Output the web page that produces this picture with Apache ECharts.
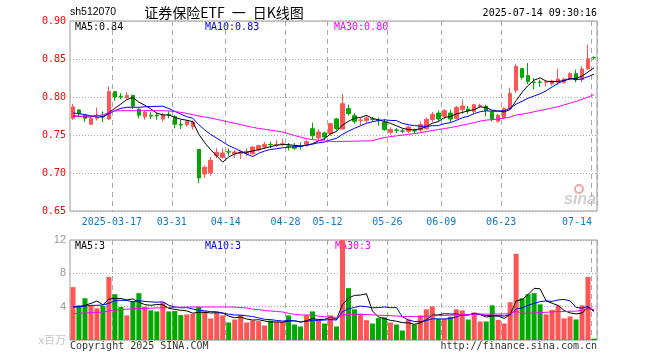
<!DOCTYPE html>
<html><head><meta charset="utf-8">
<script src="https://cdn.jsdelivr.net/npm/echarts@6/dist/echarts.min.js"></script>
<style>html,body{margin:0;padding:0;background:#fff}#c{width:660px;height:360px}</style>
</head><body><div id="c"></div>
<script>
const dates = ['2025-03-06','2025-03-07','2025-03-10','2025-03-11','2025-03-12','2025-03-13','2025-03-14','2025-03-17','2025-03-18','2025-03-19',
'2025-03-20','2025-03-21','2025-03-24','2025-03-25','2025-03-26','2025-03-27','2025-03-28','2025-03-31','2025-04-01','2025-04-02',
'2025-04-03','2025-04-07','2025-04-08','2025-04-09','2025-04-10','2025-04-11','2025-04-14','2025-04-15','2025-04-16','2025-04-17',
'2025-04-18','2025-04-21','2025-04-22','2025-04-23','2025-04-24','2025-04-25','2025-04-28','2025-04-29','2025-04-30','2025-05-06',
'2025-05-07','2025-05-08','2025-05-09','2025-05-12','2025-05-13','2025-05-14','2025-05-15','2025-05-16','2025-05-19','2025-05-20',
'2025-05-21','2025-05-22','2025-05-23','2025-05-26','2025-05-27','2025-05-28','2025-05-29','2025-05-30','2025-06-03','2025-06-04',
'2025-06-05','2025-06-06','2025-06-09','2025-06-10','2025-06-11','2025-06-12','2025-06-13','2025-06-16','2025-06-17','2025-06-18',
'2025-06-19','2025-06-20','2025-06-23','2025-06-24','2025-06-25','2025-06-26','2025-06-27','2025-06-30','2025-07-01','2025-07-02',
'2025-07-03','2025-07-04','2025-07-07','2025-07-08','2025-07-09','2025-07-10','2025-07-11','2025-07-14'];

const opens = [0.772,0.783,0.776,0.764,0.772,0.775,0.771,0.807,0.801,0.799,
0.802,0.784,0.774,0.776,0.776,0.771,0.777,0.774,0.764,0.7635,
0.761,0.731,0.6987,0.7002,0.7228,0.7206,0.7278,0.7254,0.7254,0.7254,
0.7254,0.7307,0.7342,0.7377,0.7368,0.7382,0.7355,0.7351,0.7351,0.7368,
0.7583,0.7461,0.7526,0.7518,0.7711,0.7579,0.7846,0.7754,0.7693,0.7693,
0.7710,0.7697,0.7667,0.7535,0.7566,0.7553,0.7548,0.7557,0.7566,0.7583,
0.7702,0.7789,0.7746,0.7789,0.7719,0.7833,0.7842,0.7807,0.7877,0.7877,
0.7798,0.7680,0.7728,0.7846,0.8088,0.8373,0.8281,0.8195,0.8197,0.8193,
0.8175,0.8193,0.8193,0.8237,0.8307,0.8228,0.8368,0.8519];
const closes = [0.787,0.778,0.772,0.7715,0.773,0.774,0.807,0.800,0.800,0.802,
0.788,0.776,0.780,0.775,0.775,0.776,0.776,0.764,0.763,0.768,
0.767,0.6935,0.7075,0.7167,0.7272,0.7263,0.7276,0.7276,0.7276,0.7280,
0.7342,0.7360,0.7377,0.7373,0.7377,0.7386,0.7351,0.7325,0.7347,0.7412,
0.7491,0.7539,0.7474,0.7649,0.7583,0.7912,0.7781,0.7680,0.7697,0.7724,
0.7706,0.7693,0.7570,0.7574,0.7561,0.7548,0.7605,0.7553,0.7636,0.7706,
0.7772,0.7710,0.7820,0.7710,0.7864,0.7882,0.7816,0.7899,0.7890,0.7820,
0.7702,0.7759,0.7846,0.8048,0.8404,0.8259,0.8206,0.8193,0.8193,0.8197,
0.8211,0.8237,0.8237,0.8307,0.8228,0.8368,0.8504,0.8515];
const lows = [0.770,0.775,0.767,0.763,0.769,0.767,0.770,0.795,0.797,0.798,
0.784,0.772,0.770,0.771,0.770,0.768,0.772,0.759,0.758,0.761,
0.757,0.687,0.6935,0.6965,0.7197,0.719,0.7228,0.7197,0.7184,0.7219,
0.7241,0.7285,0.7316,0.7325,0.7342,0.7351,0.7298,0.7307,0.7307,0.7342,
0.7447,0.7417,0.7430,0.7491,0.7557,0.7570,0.7754,0.7649,0.7623,0.7658,
0.7680,0.7623,0.7557,0.7504,0.7526,0.7522,0.7526,0.7513,0.7540,0.7570,
0.7671,0.7680,0.7711,0.7658,0.7706,0.7780,0.7780,0.7780,0.7855,0.7746,
0.7680,0.7662,0.7715,0.7838,0.8053,0.8228,0.8171,0.8105,0.8132,0.8140,
0.8149,0.8162,0.8175,0.8219,0.8193,0.8193,0.8360,0.8491];
const highs = [0.791,0.784,0.777,0.773,0.786,0.781,0.814,0.807,0.805,0.806,
0.803,0.785,0.782,0.780,0.779,0.779,0.781,0.776,0.770,0.770,
0.769,0.731,0.710,0.721,0.7325,0.7325,0.7325,0.730,0.729,0.7325,
0.735,0.7373,0.7412,0.7412,0.7439,0.7452,0.7395,0.7395,0.7404,0.7439,
0.7662,0.7579,0.7544,0.7658,0.7724,0.8044,0.7899,0.7789,0.7728,0.7754,
0.7737,0.7728,0.7711,0.7601,0.7592,0.7583,0.7623,0.7583,0.7680,0.7728,
0.7803,0.7820,0.7842,0.7833,0.7882,0.7969,0.7882,0.7908,0.7912,0.7899,
0.7811,0.7776,0.7864,0.8123,0.8430,0.8382,0.8447,0.8250,0.8228,0.8219,
0.8228,0.8373,0.8254,0.8325,0.8360,0.8404,0.8689,0.8535];
const volumes = [6.34,4.16,5.01,4.08,3.80,4.08,7.56,5.49,3.96,2.95,
4.69,5.62,4.00,3.56,3.43,4.53,3.43,3.47,2.99,3.07,
3.15,3.96,3.43,2.59,3.27,2.95,2.10,2.46,2.99,2.10,
2.34,2.26,1.74,2.34,2.18,2.18,2.95,1.86,1.62,2.99,
3.43,2.38,1.98,2.95,1.62,12.3,6.22,3.68,3.15,2.38,
1.98,2.63,2.71,2.10,1.86,1.13,2.46,1.86,2.95,3.68,
4.04,2.55,2.55,2.79,3.68,3.56,2.46,3.31,2.22,2.22,
4.16,2.42,1.98,4.53,10.34,5.01,5.49,5.62,4.28,3.07,
3.60,4.16,2.59,2.83,2.46,4.16,7.56,0.16];

// moving-average values before enough history exists
const priceMa5Head = [0.7750,0.7746,0.7741,0.7737];
const priceMa10Head = [0.7789,0.7781,0.7768,0.7754,0.7737,0.7737,0.7781,0.7820,0.7851];
const priceMa30Head = [0.7746,0.7746,0.7746,0.7750,0.7754,0.7763,0.7798,0.7816,0.7820,0.7820,
0.7820,0.7820,0.7820,0.7820,0.7820,0.7820,0.7816,0.7807,0.7798,0.7785,
0.7768,0.7750,0.7737,0.7724,0.7706,0.7689,0.7671,0.7654,0.7636];
const volMa5Head = [4.0,4.0,4.16,4.4];
const volMa10Head = [3.96,4.0,4.08,4.16,4.16,4.2,4.4,4.73,4.77];
const volMa30Head = [3.15,3.2,3.25,3.27,3.3,3.35,3.5,3.6,3.65,3.7,
3.75,3.78,3.8,3.82,3.85,3.88,3.9,3.92,3.94,3.95,
3.96,3.96,3.96,3.96,3.96,3.96,3.96,3.94,3.9];

const tickDates = ['2025-03-17','2025-03-31','2025-04-14','2025-04-28','2025-05-12','2025-05-26','2025-06-09','2025-06-23','2025-07-14'];
const tickLabels = ['2025-03-17','03-31','04-14','04-28','05-12','05-26','06-09','06-23','07-14'];

function ma(src, n, head) {
  return src.map((v, i) => {
    if (i < n - 1) return head[i];
    let s = 0; for (let k = i - n + 1; k <= i; k++) s += src[k];
    return s / n;
  });
}
const pMa5 = ma(closes, 5, priceMa5Head), pMa10 = ma(closes, 10, priceMa10Head), pMa30 = ma(closes, 30, priceMa30Head);
const vMa5 = ma(volumes, 5, volMa5Head), vMa10 = ma(volumes, 10, volMa10Head), vMa30 = ma(volumes, 30, volMa30Head);
const last = a => a[a.length - 1];

const UP = '#ff5555', DOWN = '#00a800';
const MONO = 'DejaVu Sans Mono';
const isTick = (i, v) => tickDates.indexOf(v) >= 0;
const vSplit = { show: true, interval: isTick, lineStyle: { color: '#aaa', type: [5, 4], width: 1 } };
const hSplit = { show: true, lineStyle: { color: '#aaa', type: [1, 2], width: 1 } };

const chart = echarts.init(document.getElementById('c'), null, { renderer: 'canvas' });
const txt = (text, x, y, fill, font, align) => ({ type: 'text', silent: true, style: { text, x, y, fill, font, textAlign: align || 'left', textVerticalAlign: 'middle' } });

chart.setOption({
  animation: false,
  backgroundColor: '#fff',
  grid: [
    { left: 70, top: 21, width: 527, height: 190, show: true, borderColor: '#999', borderWidth: 1, backgroundColor: 'transparent' },
    { left: 70, top: 240, width: 527, height: 100, show: true, borderColor: '#999', borderWidth: 1, backgroundColor: 'transparent' }
  ],
  xAxis: [
    { type: 'category', gridIndex: 0, data: dates, boundaryGap: true,
      axisLine: { show: false }, axisTick: { show: false },
      axisLabel: { interval: isTick, color: '#1177cc', fontFamily: MONO, fontSize: 10, margin: 6, padding: [0, 6, 0, 0],
        formatter: (v) => { const k = tickDates.indexOf(v); const s = tickLabels[k]; return v === last(dates) ? '{e|' + s + '}' : s; },
        rich: { e: { padding: [0, 28, 0, 0], color: '#1177cc', fontFamily: MONO, fontSize: 10 } } },
      splitLine: vSplit },
    { type: 'category', gridIndex: 1, data: dates, boundaryGap: true,
      axisLine: { show: false }, axisTick: { show: false }, axisLabel: { show: false },
      splitLine: vSplit }
  ],
  yAxis: [
    { type: 'value', gridIndex: 0, min: 0.65, max: 0.90, interval: 0.05, scale: false,
      axisLine: { show: false }, axisTick: { show: false },
      axisLabel: { formatter: v => v.toFixed(2), color: '#ff0000', fontFamily: MONO, fontSize: 10, margin: 4 },
      splitLine: hSplit },
    { type: 'value', gridIndex: 1, min: 0, max: 12, interval: 4,
      axisLine: { show: false }, axisTick: { show: false },
      axisLabel: { formatter: v => v === 0 ? '{u|x百万}' : String(v), color: '#999', fontFamily: 'Liberation Sans', fontSize: 11, margin: 4,
        rich: { u: { color: '#c4c4c4', fontFamily: 'Noto Sans CJK SC', fontSize: 11 } } },
      splitLine: hSplit }
  ],
  series: [
    { type: 'candlestick', xAxisIndex: 0, yAxisIndex: 0, barWidth: 4,
      data: dates.map((d, i) => [opens[i], closes[i], lows[i], highs[i]]),
      itemStyle: { color: UP, color0: DOWN, borderColor: UP, borderColor0: DOWN, borderWidth: 1 } },
    { type: 'line', xAxisIndex: 0, yAxisIndex: 0, data: pMa5, symbol: 'none', lineStyle: { color: '#000', width: 1 } },
    { type: 'line', xAxisIndex: 0, yAxisIndex: 0, data: pMa10, symbol: 'none', lineStyle: { color: '#0000ff', width: 1 } },
    { type: 'line', xAxisIndex: 0, yAxisIndex: 0, data: pMa30, symbol: 'none', lineStyle: { color: '#ff00ff', width: 1 } },
    { type: 'bar', xAxisIndex: 1, yAxisIndex: 1, barWidth: 5, clip: true,
      data: volumes.map((v, i) => ({ value: v, itemStyle: { color: closes[i] >= opens[i] ? UP : DOWN } })) },
    { type: 'line', xAxisIndex: 1, yAxisIndex: 1, data: vMa5, symbol: 'none', lineStyle: { color: '#000', width: 1 } },
    { type: 'line', xAxisIndex: 1, yAxisIndex: 1, data: vMa10, symbol: 'none', lineStyle: { color: '#0000ff', width: 1 } },
    { type: 'line', xAxisIndex: 1, yAxisIndex: 1, data: vMa30, symbol: 'none', lineStyle: { color: '#ff00ff', width: 1 } }
  ],
  graphic: [
    txt('sh512070', 70, 12, '#000', '10.5px "Liberation Sans"'),
    txt('证券保险ETF\u2002一\u2002日K线图', 224, 13, '#000', '14px "Noto Sans CJK SC"', 'center'),
    txt('2025-07-14 09:30:16', 597, 13, '#000', '10px "DejaVu Sans Mono"', 'right'),
    txt('MA5:' + last(pMa5).toFixed(2), 75, 27, '#000', '10px "DejaVu Sans Mono"'),
    txt('MA10:' + last(pMa10).toFixed(2), 205, 27, '#0000ff', '10px "DejaVu Sans Mono"'),
    txt('MA30:' + last(pMa30).toFixed(2), 334, 27, '#ff00ff', '10px "DejaVu Sans Mono"'),
    txt('MA5:' + Math.floor(last(vMa5)), 75, 246, '#000', '10px "DejaVu Sans Mono"'),
    txt('MA10:' + Math.floor(last(vMa10)), 205, 246, '#0000ff', '10px "DejaVu Sans Mono"'),
    txt('MA30:' + Math.floor(last(vMa30)), 335, 246, '#ff00ff', '10px "DejaVu Sans Mono"'),
    txt('Copyright 2025 SINA.COM', 70, 346, '#333', '10px "DejaVu Sans Mono"'),
    txt('http://finance.sina.com.cn', 597, 346, '#333', '10px "DejaVu Sans Mono"', 'right'),
    { type: 'circle', silent: true, shape: { cx: 579, cy: 189, r: 4 }, style: { fill: 'none', stroke: '#f2a8a8', lineWidth: 2 } },
    txt('sina', 580, 200, '#cfcfcf', 'italic bold 16px "Liberation Sans"', 'center')
  ]
});
</script></body></html>
